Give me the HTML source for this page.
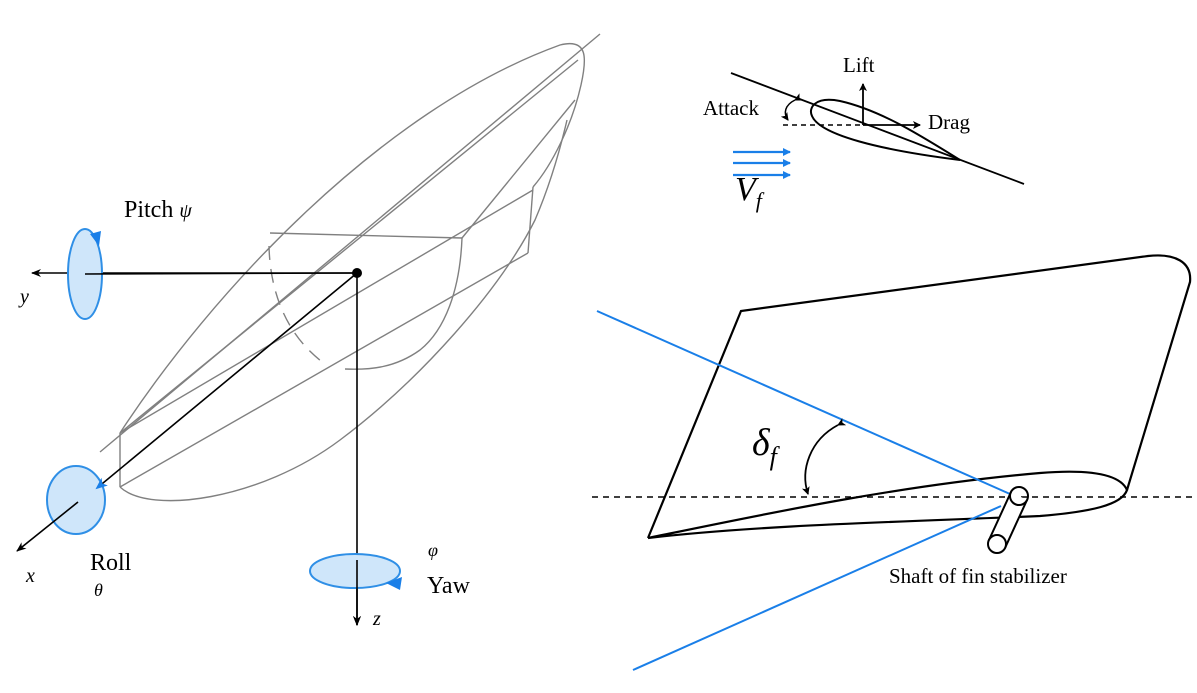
<!DOCTYPE html>
<html><head><meta charset="utf-8"><style>
html,body{margin:0;padding:0;background:#fff;}
svg{display:block;}
text{font-family:"Liberation Serif",serif;fill:#000;}
</style></head><body>
<svg width="1197" height="693" viewBox="0 0 1197 693" xmlns="http://www.w3.org/2000/svg">
<defs>
<marker id="ab" markerWidth="10" markerHeight="10" refX="9" refY="5" orient="auto" markerUnits="userSpaceOnUse"><path d="M0,1 L10,5 L0,9 L3,5 Z" fill="#000"/></marker>
<marker id="abb" markerWidth="12" markerHeight="12" refX="10" refY="6" orient="auto" markerUnits="userSpaceOnUse"><path d="M0,1 L12,6 L0,11 L3,6 Z" fill="#1a7fe8"/></marker>
<marker id="sm" markerWidth="8" markerHeight="8" refX="7" refY="4" orient="auto" markerUnits="userSpaceOnUse"><path d="M0,0 L8,4 L0,8 L2,4 Z" fill="#000"/></marker>
<marker id="blu" markerWidth="8" markerHeight="8" refX="7" refY="4" orient="auto" markerUnits="userSpaceOnUse"><path d="M0,0 L8,4 L0,8 Z" fill="#1a7fe8"/></marker>
</defs>

<!-- hull -->
<g fill="none" stroke="#808080" stroke-width="1.4">
<path d="M100,452 L600,34"/>
<path d="M120,433 C210,295 380,110 560,45 C588,38 587,58 581,85 C572,125 552,165 533,187"/>
<path d="M120,433 L578,60"/>
<path d="M120,433 L533,190"/>
<path d="M462,238 L575,100"/>
<path d="M270,233 L462,238"/>
<path d="M120,433 L120,487"/>
<path d="M120,487 L528,253"/>
<path d="M120,487 C150,515 260,500 340,440 C420,380 500,290 535,220 C550,185 560,150 567,120"/>
<path d="M533,187 L528,253"/>
<path d="M462,238 C460,290 445,330 420,350 C395,368 370,370 345,369"/>
<path d="M269,246 C270,290 285,335 325,364" stroke-dasharray="14,9"/>
</g>

<!-- axes -->
<line x1="357" y1="273" x2="32" y2="273" stroke="#000" stroke-width="1.6" marker-end="url(#ab)"/>
<line x1="357" y1="273" x2="357" y2="625" stroke="#000" stroke-width="1.6" marker-end="url(#ab)"/>

<!-- pitch -->
<ellipse cx="85" cy="274" rx="17" ry="45" fill="#cfe6fa" stroke="#2f8fe6" stroke-width="2"/>
<line x1="85" y1="274" x2="357" y2="273" stroke="#000" stroke-width="1.6"/>
<path d="M90,234 L101,231 L99,246 Z" fill="#1a7fe8"/>
<!-- roll -->
<ellipse cx="76" cy="500" rx="29" ry="34" fill="#cfe6fa" stroke="#2f8fe6" stroke-width="2"/>
<line x1="357" y1="273" x2="97" y2="488" stroke="#000" stroke-width="1.6" marker-end="url(#abb)"/>
<line x1="78" y1="502" x2="17" y2="551" stroke="#000" stroke-width="1.6" marker-end="url(#ab)"/>
<!-- yaw -->
<ellipse cx="355" cy="571" rx="45" ry="17" fill="#cfe6fa" stroke="#2f8fe6" stroke-width="2"/>
<path d="M386,583 L402,577 L400,590 Z" fill="#1a7fe8"/>
<line x1="357" y1="560" x2="357" y2="625" stroke="#000" stroke-width="1.6" marker-end="url(#ab)"/>
<circle cx="357" cy="273" r="5" fill="#000"/>

<text x="124" y="217" font-size="24">Pitch <tspan font-style="italic" font-size="20">ψ</tspan></text>
<text x="20" y="303" font-size="20" font-style="italic" fill="#333">y</text>
<text x="26" y="582" font-size="20" font-style="italic" fill="#333">x</text>
<text x="90" y="570" font-size="24">Roll</text>
<text x="94" y="596" font-size="18" font-style="italic" fill="#333">θ</text>
<text x="428" y="556" font-size="18" font-style="italic" fill="#333">φ</text>
<text x="427" y="593" font-size="24">Yaw</text>
<text x="373" y="625" font-size="20" font-style="italic" fill="#333">z</text>

<!-- airfoil top -->
<line x1="731" y1="73" x2="1024" y2="184" stroke="#000" stroke-width="1.8"/>
<path d="M960,160 C920,135 880,110 840,101 C815,96 808,108 812,116 C820,135 880,150 960,160 Z" fill="none" stroke="#000" stroke-width="2"/>
<line x1="783" y1="125" x2="863" y2="125" stroke="#000" stroke-width="1.5" stroke-dasharray="5,4"/>
<line x1="863" y1="125" x2="863" y2="84" stroke="#000" stroke-width="1.8" marker-end="url(#sm)"/>
<line x1="863" y1="125" x2="920" y2="125" stroke="#000" stroke-width="1.8" marker-end="url(#sm)"/>
<path d="M795,100 C785,105 783,113 788,120" fill="none" stroke="#000" stroke-width="1.5" marker-end="url(#sm)" marker-start="url(#sm)"/>
<text x="703" y="115" font-size="21">Attack</text>
<text x="843" y="72" font-size="21">Lift</text>
<text x="928" y="129" font-size="21">Drag</text>
<g stroke="#1a7fe8" stroke-width="2.2">
<line x1="733" y1="152" x2="790" y2="152" marker-end="url(#blu)"/>
<line x1="733" y1="163" x2="790" y2="163" marker-end="url(#blu)"/>
<line x1="733" y1="175" x2="790" y2="175" marker-end="url(#blu)"/>
</g>
<text x="735" y="200" font-size="34" font-style="italic">V<tspan font-size="22" dy="8">f</tspan></text>

<!-- fin -->
<g fill="none" stroke="#000" stroke-width="2.2">
<path d="M648,538 L741,311 L1148,256 C1175,253 1192,262 1190,282 L1127,490"/>
<path d="M648,538 C760,515 900,485 1040,473 C1090,469 1120,474 1127,490 C1122,505 1090,512 1040,516 C900,522 760,525 648,538"/>
</g>
<line x1="592" y1="497" x2="1197" y2="497" stroke="#000" stroke-width="1.6" stroke-dasharray="6,5"/>
<line x1="597" y1="311" x2="1010" y2="494" stroke="#1a7fe8" stroke-width="2"/>
<line x1="633" y1="670" x2="1001" y2="506" stroke="#1a7fe8" stroke-width="2"/>
<!-- shaft -->
<g fill="#fff" stroke="#000" stroke-width="2">
<path d="M1011,492 L989,540 A9,9 0 0 0 1005,548 L1027,500"/>
<ellipse cx="997" cy="544" rx="9" ry="9"/>
<ellipse cx="1019" cy="496" rx="9" ry="9" fill="none"/>
</g>
<path d="M838,425 C810,440 800,470 808,494" fill="none" stroke="#000" stroke-width="1.8" marker-end="url(#sm)" marker-start="url(#sm)"/>
<text x="752" y="455" font-size="38" font-style="italic">δ<tspan font-size="26" dy="10">f</tspan></text>
<text x="889" y="583" font-size="21">Shaft of fin stabilizer</text>
</svg>
</body></html>
